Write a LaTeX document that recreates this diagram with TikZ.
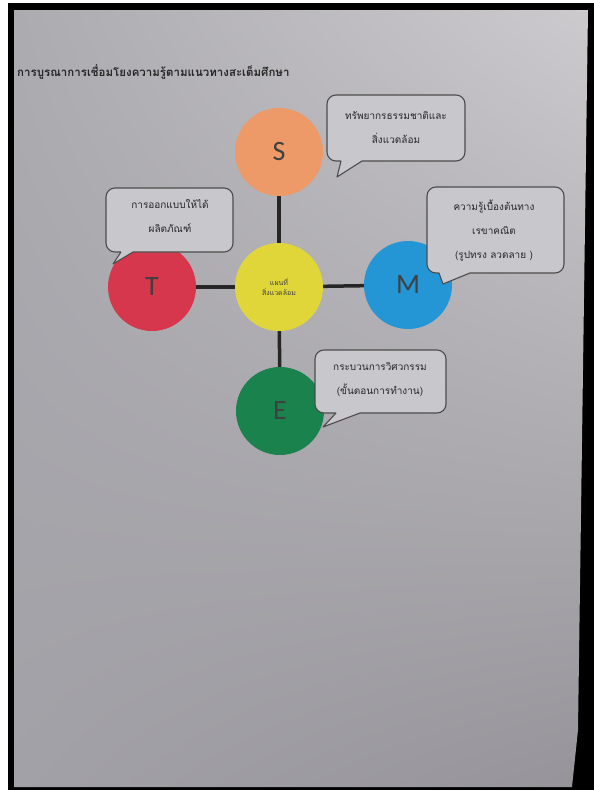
\documentclass[tikz,border=0pt]{standalone}
\usepackage{fontspec}
\usetikzlibrary{shadings}
\newfontfamily\thai[Script=Thai]{Loma}
\newfontfamily\letterfont{Carlito}
\definecolor{paperUL}{RGB}{172,171,176}
\definecolor{paperUR}{RGB}{204,202,205}
\definecolor{paperLL}{RGB}{162,161,167}
\definecolor{paperLR}{RGB}{150,148,154}
\definecolor{bubblefill}{RGB}{200,200,204}
\definecolor{discS}{RGB}{238,154,104}
\definecolor{discT}{RGB}{214,55,76}
\definecolor{discC}{RGB}{224,214,58}
\definecolor{discM}{RGB}{36,150,214}
\definecolor{discE}{RGB}{26,130,76}
\begin{document}
\begin{tikzpicture}[x=1pt,y=-1pt,
  disc/.style={circle,minimum size=88pt,inner sep=0pt,font=\letterfont\fontsize{28}{28}\selectfont,text=black!75},
  spoke/.style={draw=black!85,line width=3.5pt},
  bubble/.style={draw=black!70,fill=bubblefill,line width=1.1pt,line join=round},
  note/.style={font=\thai\fontsize{10}{24}\selectfont,text=black!85,align=center,inner sep=0pt}]
\useasboundingbox (0,0) rectangle (594,790);
% photo frame and the sheet of paper
\fill[white] (0,0) rectangle (594,790);
\fill[black] (8,3) rectangle (594,790);
\shade[upper left=paperUL,upper right=paperUR,lower left=paperLL,lower right=paperLR]
  (14,10) -- (588,10) -- (578,730) -- (572,787) -- (14,787) -- cycle;
% title
\node[anchor=west,font=\thai\bfseries\fontsize{11.5}{12}\selectfont,text=black!85,inner sep=0pt] (title) at (17,72)
  {การบูรณาการเชื่อมโยงความรู้ตามแนวทางสะเต็มศึกษา};
% STEM discs
\node[disc,fill=discS] (s) at (279,152) {S};
\node[disc,fill=discT] (t) at (152,287) {T};
\node[disc,fill=discC] (c) at (279,287)
  {\thai\fontsize{7}{16}\selectfont\shortstack{แผนที่\\สิ่งแวดล้อม}};
\node[disc,fill=discM] (m) at (408,285) {M};
\node[disc,fill=discE] (e) at (280,411) {E};
\draw[spoke] (c) -- (s);
\draw[spoke] (c) -- (t);
\draw[spoke] (c) -- (m);
\draw[spoke] (c) -- (e);
% speech bubbles
\draw[bubble] (341,161) -- (337,177) -- (362,161) [rounded corners=9] -- (465,161) -- (465,95) -- (327,95) -- (327,161) -- (341,161);
\draw[bubble] (121,252) -- (113,264) -- (133,252) [rounded corners=9] -- (233,252) -- (233,188) -- (106,188) -- (106,252) -- (121,252);
\draw[bubble] (439,273) -- (443,284) -- (470,273) [rounded corners=9] -- (564,273) -- (564,187) -- (427,187) -- (427,273) -- (439,273);
\draw[bubble] (336,413) -- (323,427) -- (360,413) [rounded corners=9] -- (446,413) -- (446,350) -- (315,350) -- (315,413) -- (336,413);
\node[note] (ns) at (396,128) {ทรัพยากรธรรมชาติและ\\สิ่งแวดล้อม};
\node[note] (nt) at (170,216) {การออกแบบให้ได้\\ผลิตภัณฑ์};
\node[note] (nm) at (494,231) {ความรู้เบื้องต้นทาง\\เรขาคณิต\\(รูปทรง ลวดลาย )};
\node[note] (ne) at (380,380) {กระบวนการวิศวกรรม\\(ขั้นตอนการทำงาน)};
\end{tikzpicture}
\end{document}
